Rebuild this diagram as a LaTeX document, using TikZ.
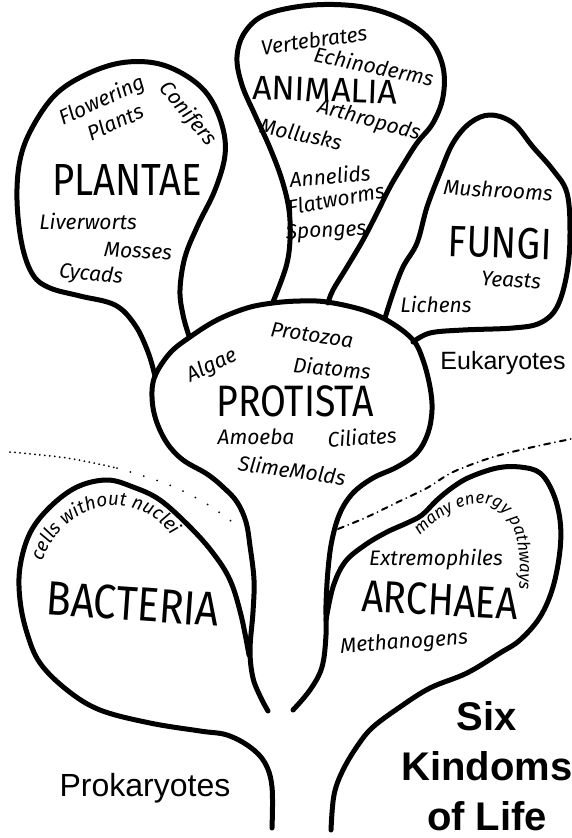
\documentclass[tikz,border=0pt]{standalone}
\usepackage{fontspec}
\setmainfont{Liberation Sans}
\newfontfamily\handfont{Fira Sans}
\newfontfamily\bighandfont[FakeStretch=0.85]{Fira Sans}
\usetikzlibrary{decorations.text}
\newcommand{\kfont}[1]{\bighandfont\fontsize{#1}{#1}\selectfont}
\newcommand{\lfont}[1]{\handfont\itshape\fontsize{#1}{#1}\selectfont}
\tikzset{
  outline/.style={line width=5pt,line cap=round,line join=round},
  kingdom/.style={font=\kfont{44},inner sep=0pt},
  member/.style={font=\lfont{21},inner sep=0pt},
  group/.style={font=\fontsize{25}{25}\selectfont,inner sep=0pt},
  dotline/.style={line width=2pt,line cap=round,dash pattern=on 0pt off #1},
  dashdot/.style={line width=2pt,line cap=round,dash pattern=on 6pt off 5pt on 0pt off 5pt},
  arctext/.style={decorate,decoration={text along path,text align=center,text={#1}}}
}
\begin{document}
\begin{tikzpicture}[x=1pt,y=-1pt]
  \path[use as bounding box,fill=white] (0,0) rectangle (571,838);

  % lobes
  \draw[outline] plot[smooth,tension=0.6] coordinates {(155,376) (148,352) (135,325)
    (115,305) (80,296) (50,288) (33,275) (22,245) (17,200) (20,160) (32,128) (55,95)
    (85,75) (120,63) (155,63) (185,75) (208,95) (222,125) (225,155) (215,190) (198,225)
    (185,257) (180,290) (183,315) (189,336)};
  \draw[outline] plot[smooth,tension=0.6] coordinates {(273,302) (286,267) (290,240)
    (289,210) (282,180) (270,148) (255,115) (242,85) (237,57) (245,32) (267,14) (313,5)
    (363,7) (403,20) (430,40) (443,67) (443,97) (433,123) (417,143) (403,165) (390,187)
    (377,213) (363,240) (347,267) (333,290) (328,303)};
  \draw[outline] plot[smooth,tension=0.6] coordinates {(385,318) (393,293) (403,267)
    (417,243) (427,207) (440,173) (453,143) (470,123) (490,115) (513,123) (533,147)
    (553,170) (567,193) (570,233) (567,273) (557,307) (540,323) (513,328) (463,330)
    (430,333) (413,342)};
  \draw[outline] plot[smooth,tension=0.6] coordinates {(268,711) (261,698) (253,678)
    (250,650) (253,612) (254,580) (250,546) (246,522) (237,502) (223,487) (207,474)
    (183,460) (167,443) (156,420) (152,397) (155,376) (170,353) (190,337) (217,320)
    (247,308) (273,303) (300,301) (327,302) (363,310) (390,322) (413,340) (423,360)
    (430,387) (432,410) (428,433) (417,453) (397,467) (373,478) (353,493) (340,513)
    (332,540) (328,570) (326,605) (326,635) (322,667) (310,690) (293,710)};
  \draw[outline] plot[smooth,tension=0.6] coordinates {(249,655) (241,615) (230,580)
    (213,553) (190,527) (160,500) (133,487) (107,480) (77,487) (50,507) (30,533)
    (20,567) (20,600) (27,633) (40,663) (67,690) (100,710) (150,723) (200,731)
    (227,735) (250,747) (265,763) (272,787) (272,828)};
  \draw[outline] plot[smooth,tension=0.6] coordinates {(326,620) (333,587) (345,562)
    (365,545) (387,532) (407,523) (422,515) (437,500) (453,487) (470,477) (497,468)
    (520,467) (540,473) (553,493) (560,520) (560,550) (553,587) (540,617) (520,640)
    (500,653) (467,673) (430,688) (400,707) (373,727) (358,745) (343,770) (334,795)
    (331,830)};

  % eukaryote / prokaryote borders
  \draw[dotline=5pt] plot[smooth] coordinates {(10,452) (67,458) (117,468)};
  \draw[dotline=14pt] plot[smooth] coordinates {(117,468) (167,484) (207,504) (240,528)};
  \draw[dashdot] plot[smooth] coordinates {(338,529) (367,517) (400,501) (427,488)
    (453,472) (493,457) (533,447) (571,439)};

  % plantae
  \node[member,rotate=25] (flowering) at (102,101) {Flowering};
  \node[member,rotate=24] (plants) at (115,122) {Plants};
  \node[member,rotate=-50] (conifers) at (188,114) {Conifers};
  \node[kingdom,font=\kfont{45}] (plantae) at (127,180) {PLANTAE};
  \node[member] (liverworts) at (88,221) {Liverworts};
  \node[member,rotate=-3] (mosses) at (138,251) {Mosses};
  \node[member,rotate=-6] (cycads) at (91,275) {Cycads};

  % animalia
  \node[member,rotate=8] (vertebrates) at (314,40) {Vertebrates};
  \node[member,rotate=-12] (echinoderms) at (374,66) {Echinoderms};
  \node[kingdom,font=\handfont\fontsize{34}{34}\selectfont,rotate=-2] (animalia)
    at (325,90) {ANIMALIA};
  \node[member,rotate=-15] (arthropods) at (369,121) {Arthropods};
  \node[member,rotate=-12] (mollusks) at (301,134) {Mollusks};
  \node[member,rotate=5] (annelids) at (330,176) {Annelids};
  \node[member,rotate=10] (flatworms) at (336,199) {Flatworms};
  \node[member,rotate=3] (sponges) at (326,232) {Sponges};

  % fungi
  \node[member,rotate=-3] (mushrooms) at (498,190) {Mushrooms};
  \node[kingdom,rotate=-2] (fungi) at (500,243) {FUNGI};
  \node[member,rotate=-3] (yeasts) at (511,280) {Yeasts};
  \node[member] (lichens) at (436,304) {Lichens};
  \node[group] (eukaryotes) at (503,363) {Eukaryotes};

  % protista
  \node[member,rotate=-8] (protozoa) at (312,335) {Protozoa};
  \node[member,rotate=25] (algae) at (212,366) {Algae};
  \node[member,rotate=-5] (diatoms) at (332,368) {Diatoms};
  \node[kingdom] (protista) at (295,401) {PROTISTA};
  \node[member] (amoeba) at (256,437) {Amoeba};
  \node[member,rotate=4] (ciliates) at (362,437) {Ciliates};
  \node[member,rotate=-8] (slimemolds) at (292,470) {SlimeMolds};

  % bacteria
  \path[arctext={|\lfont{19}|cells without nuclei}]
    (40,572) .. controls (55,500) and (140,480) .. (178,545);
  \node[kingdom,font=\kfont{48},rotate=-4] (bacteria) at (133,604) {BACTERIA};

  % archaea
  \path[arctext={|\lfont{17}|many energy pathways}]
    (418,537) .. controls (468,488) and (528,482) .. (519,592);
  \node[member] (extremophiles) at (436,560) {Extremophiles};
  \node[kingdom,font=\kfont{45},rotate=-3] (archaea) at (440,600) {ARCHAEA};
  \node[member,rotate=4] (methanogens) at (404,643) {Methanogens};

  \node[group,font=\fontsize{32}{32}\selectfont] (prokaryotes) at (145,788) {Prokaryotes};
  \node[group,font=\bfseries\fontsize{40}{50}\selectfont,align=center] (title)
    at (487,766) {Six\\Kindoms\\of Life};
\end{tikzpicture}
\end{document}
